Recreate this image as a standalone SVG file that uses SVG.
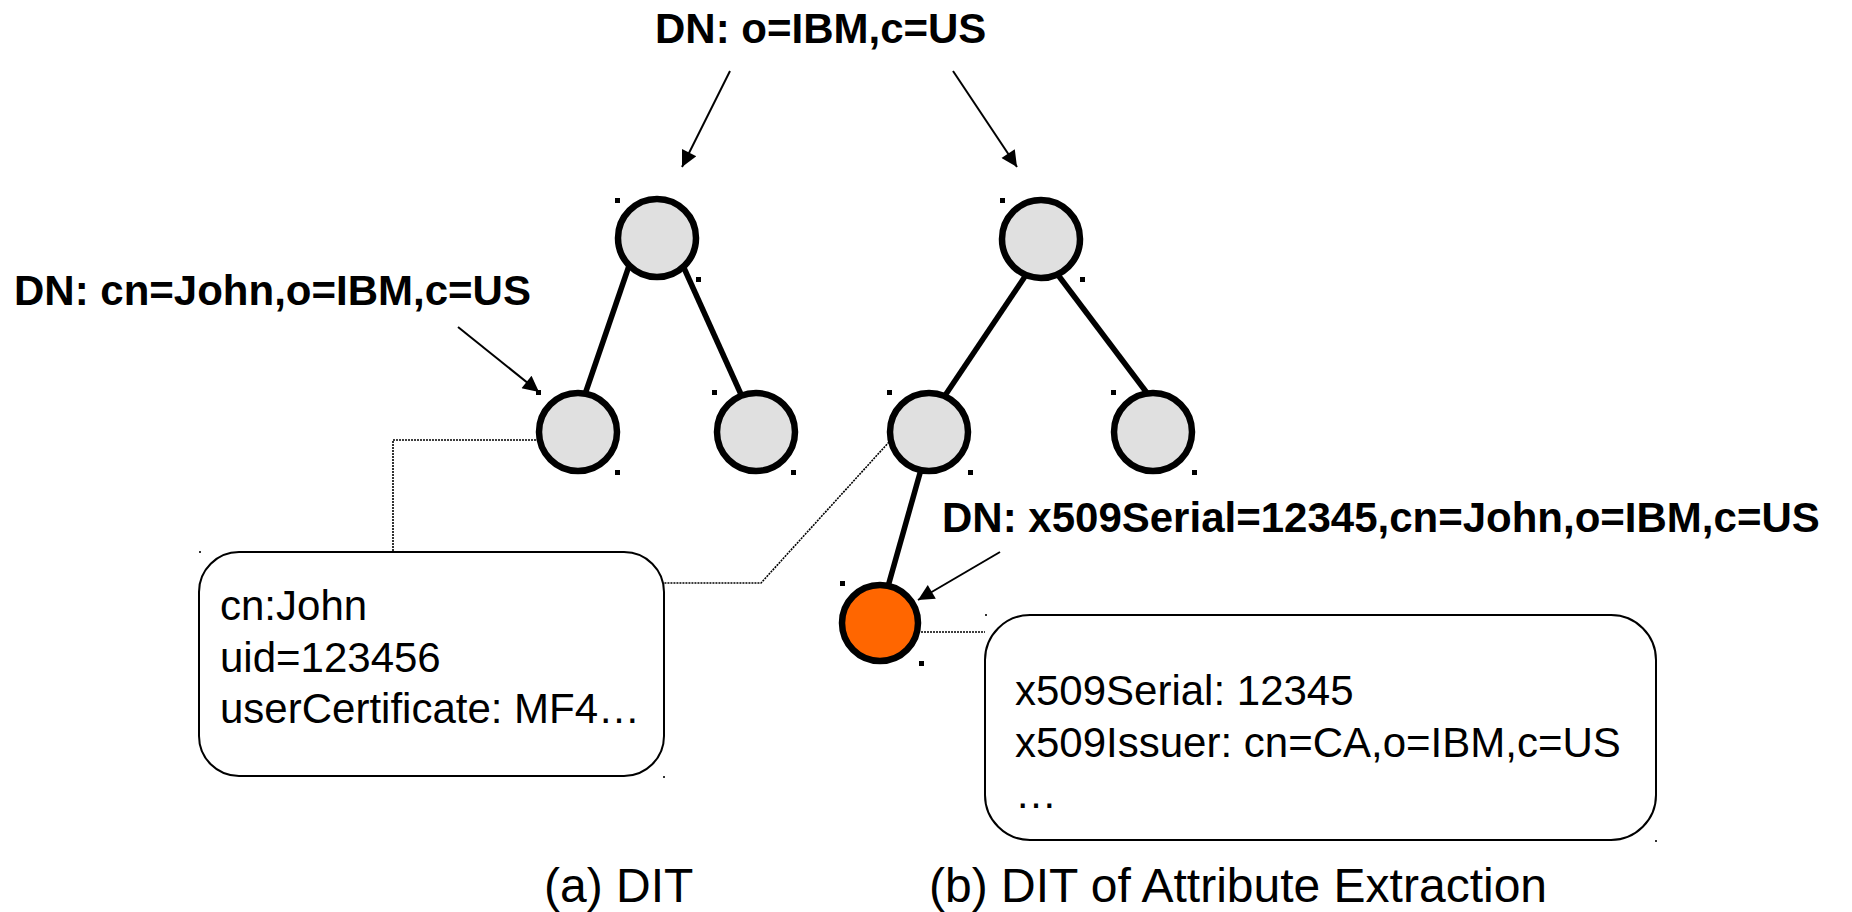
<svg xmlns="http://www.w3.org/2000/svg" width="1852" height="912" viewBox="0 0 1852 912">
<style>
  text { font-family: "Liberation Sans", Arial, sans-serif; fill: #000; }
  .dn { font-size: 42px; font-weight: bold; }
  .attr { font-size: 42px; }
  .cap { font-size: 48px; }
  .edge { stroke: #000; stroke-width: 5.5; fill: none; }
  .arrow { stroke: #000; stroke-width: 2; fill: none; marker-end: url(#ah); }
  .dash { stroke: #000; stroke-width: 1.6; fill: none; stroke-dasharray: 2 1; }
  .node { fill: #e0e0e0; stroke: #000; stroke-width: 6.5; }
  .leaf { fill: #ff6600; stroke: #000; stroke-width: 6.5; }
  .box { fill: #fff; stroke: #000; stroke-width: 2; }
  .h { fill: #000; }
  .d { fill: #333; }
</style>
<defs>
  <marker id="ah" viewBox="0 0 10 10" refX="10" refY="5" markerWidth="9" markerHeight="8" markerUnits="strokeWidth" orient="auto">
    <path d="M0,0 L10,5 L0,10 z" fill="#000"/>
  </marker>
</defs>
<rect width="1852" height="912" fill="#fff"/>

<g id="connectors">
  <line class="edge" x1="631" y1="260" x2="583" y2="400"/>
  <line class="edge" x1="684" y1="268" x2="744" y2="401"/>
  <line class="edge" x1="1028" y1="272" x2="942" y2="400"/>
  <line class="edge" x1="1055" y1="271" x2="1150" y2="397"/>
  <line class="edge" x1="922" y1="466" x2="887" y2="590"/>
  <path class="dash" d="M536,440 H393 V552"/>
  <path class="dash" d="M889,442 L761,583 H664"/>
  <path class="dash" d="M921,632 H985"/>
  <line class="arrow" x1="730" y1="71" x2="682" y2="167"/>
  <line class="arrow" x1="953" y1="71" x2="1017" y2="167"/>
  <line class="arrow" x1="458" y1="327" x2="539" y2="392"/>
  <line class="arrow" x1="1000" y1="552" x2="918" y2="600"/>
</g>

<g id="label-root"><text class="dn" x="655" y="43">DN: o=IBM,c=US</text></g>
<g id="label-john"><text class="dn" x="14" y="305">DN: cn=John,o=IBM,c=US</text></g>
<g id="label-serial"><text class="dn" x="942" y="532">DN: x509Serial=12345,cn=John,o=IBM,c=US</text></g>

<g id="a-root"><circle class="node" cx="657" cy="238" r="39"/><rect class="h" x="615" y="198" width="5" height="5"/><rect class="h" x="696" y="277" width="5" height="5"/></g>
<g id="a-left"><circle class="node" cx="578" cy="432" r="39"/><rect class="h" x="536" y="390" width="5" height="5"/><rect class="h" x="615" y="470" width="5" height="5"/></g>
<g id="a-right"><circle class="node" cx="756" cy="432" r="39"/><rect class="h" x="712" y="390" width="5" height="5"/><rect class="h" x="791" y="470" width="5" height="5"/></g>
<g id="b-root"><circle class="node" cx="1041" cy="239" r="39"/><rect class="h" x="1000" y="198" width="5" height="5"/><rect class="h" x="1080" y="277" width="5" height="5"/></g>
<g id="b-left"><circle class="node" cx="929" cy="432" r="39"/><rect class="h" x="887" y="390" width="5" height="5"/><rect class="h" x="968" y="470" width="5" height="5"/></g>
<g id="b-right"><circle class="node" cx="1153" cy="432" r="39"/><rect class="h" x="1111" y="390" width="5" height="5"/><rect class="h" x="1192" y="470" width="5" height="5"/></g>
<g id="b-serial"><circle class="leaf" cx="880" cy="623" r="38"/><rect class="h" x="840" y="581" width="5" height="5"/><rect class="h" x="919" y="661" width="5" height="5"/></g>

<g id="box-a">
  <rect class="box" x="199" y="552" width="465" height="224" rx="40" ry="40"/>
  <rect class="d" x="199" y="551" width="2" height="2"/>
  <rect class="d" x="663" y="776" width="2" height="2"/>
  <text class="attr" x="220" y="620">cn:John</text>
  <text class="attr" x="220" y="672">uid=123456</text>
  <text class="attr" x="220" y="723">userCertificate: MF4…</text>
</g>
<g id="box-b">
  <rect class="box" x="985" y="615" width="671" height="225" rx="45" ry="45"/>
  <rect class="d" x="985" y="614" width="2" height="2"/>
  <rect class="d" x="1655" y="840" width="2" height="2"/>
  <text class="attr" x="1015" y="705">x509Serial: 12345</text>
  <text class="attr" x="1015" y="757">x509Issuer: cn=CA,o=IBM,c=US</text>
  <text class="attr" x="1015" y="808">…</text>
</g>

<g id="captions">
  <text class="cap" x="544" y="902">(a) DIT</text>
  <text class="cap" x="929" y="902">(b) DIT of Attribute Extraction</text>
</g>
</svg>
